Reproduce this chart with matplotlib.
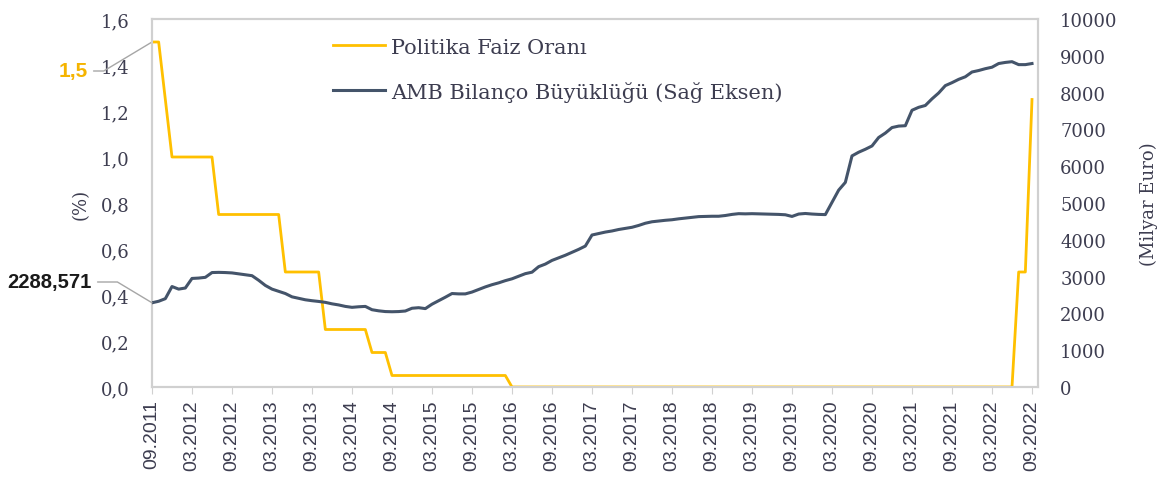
import matplotlib
matplotlib.use("Agg")
import matplotlib.pyplot as plt

# monthly observations, 09.2011 .. 09.2022
policy_rate = [
    1.5, 1.5, 1.25, 1.0, 1.0, 1.0, 1.0, 1.0, 1.0, 1.0,
    0.75, 0.75, 0.75, 0.75, 0.75, 0.75, 0.75, 0.75, 0.75, 0.75,
    0.5, 0.5, 0.5, 0.5, 0.5, 0.5,
    0.25, 0.25, 0.25, 0.25, 0.25, 0.25, 0.25,
    0.15, 0.15, 0.15,
    0.05, 0.05, 0.05, 0.05, 0.05, 0.05, 0.05, 0.05, 0.05, 0.05,
    0.05, 0.05, 0.05, 0.05, 0.05, 0.05, 0.05, 0.05,
    0.0, 0.0, 0.0, 0.0, 0.0, 0.0, 0.0, 0.0, 0.0, 0.0,
    0.0, 0.0, 0.0, 0.0, 0.0, 0.0, 0.0, 0.0, 0.0, 0.0,
    0.0, 0.0, 0.0, 0.0, 0.0, 0.0, 0.0, 0.0, 0.0, 0.0,
    0.0, 0.0, 0.0, 0.0, 0.0, 0.0, 0.0, 0.0, 0.0, 0.0,
    0.0, 0.0, 0.0, 0.0, 0.0, 0.0, 0.0, 0.0, 0.0, 0.0,
    0.0, 0.0, 0.0, 0.0, 0.0, 0.0, 0.0, 0.0, 0.0, 0.0,
    0.0, 0.0, 0.0, 0.0, 0.0, 0.0, 0.0, 0.0, 0.0, 0.0,
    0.0, 0.0, 0.0, 0.0, 0.0, 0.0,
    0.5, 0.5, 1.25,
]

ecb_balance = [
    2288.571, 2330, 2400, 2730, 2660, 2690, 2950, 2960, 2980, 3110,
    3115, 3110, 3100, 3075, 3050, 3025, 2900, 2760, 2660, 2600,
    2540, 2450, 2410, 2370, 2345, 2325, 2300, 2260, 2230, 2190,
    2165, 2180, 2190, 2100, 2070, 2050, 2045, 2050, 2065, 2140,
    2155, 2130, 2250, 2345, 2440, 2540, 2530, 2530, 2580, 2650,
    2720, 2780, 2830, 2890, 2940, 3010, 3080, 3120, 3270, 3340,
    3440, 3510, 3580, 3660, 3740, 3830, 4130, 4170, 4210, 4240,
    4280, 4310, 4340, 4390, 4450, 4490, 4510, 4530, 4545, 4570,
    4590, 4610, 4630, 4635, 4640, 4640, 4660, 4690, 4710, 4705,
    4710, 4705, 4700, 4695, 4690, 4680, 4635, 4700, 4715, 4700,
    4690, 4685, 5020, 5350, 5560, 6280, 6380, 6460, 6550, 6780,
    6900, 7050, 7090, 7100, 7520, 7600, 7650, 7830, 7990, 8190,
    8270, 8360, 8430, 8560, 8600, 8650, 8690, 8790, 8820, 8840,
    8760, 8760, 8790,
]

tick_labels = [
    "09.2011", "03.2012", "09.2012", "03.2013", "09.2013", "03.2014",
    "09.2014", "03.2015", "09.2015", "03.2016", "09.2016", "03.2017",
    "09.2017", "03.2018", "09.2018", "03.2019", "09.2019", "03.2020",
    "09.2020", "03.2021", "09.2021", "03.2022", "09.2022",
]
left_ticks = [0.0, 0.2, 0.4, 0.6, 0.8, 1.0, 1.2, 1.4, 1.6]
right_ticks = [0, 1000, 2000, 3000, 4000, 5000, 6000, 7000, 8000, 9000, 10000]

YELLOW = "#FFC000"
NAVY = "#44546A"
TXT = "#3d3d50"
FRAME = "#d0d0d0"
SERIF = "DejaVu Serif"

months = list(range(len(policy_rate)))

fig = plt.figure(figsize=(11.6, 4.89), dpi=100)
ax = fig.add_axes([152 / 1160, 101 / 489, 886 / 1160, 368 / 489])
ax2 = ax.twinx()

l1, = ax.plot(months, policy_rate, color=YELLOW, lw=2.0, zorder=3)
l2, = ax2.plot(months, ecb_balance, color=NAVY, lw=2.2, zorder=3)

ax.set_xlim(0, 132.9)
ax.set_ylim(0, 1.6)
ax2.set_ylim(0, 10000)

ax.set_xticks(months[::6])
ax.set_xticklabels(tick_labels, rotation=90, family="Liberation Sans",
                   fontsize=14, color=TXT)
ax.tick_params(axis="x", length=5, color=FRAME, pad=4)

ax.set_yticks(left_ticks)
ax.set_yticklabels([f"{v:.1f}".replace(".", ",") for v in left_ticks],
                   family=SERIF, fontsize=13, color=TXT)
ax.tick_params(axis="y", length=0, pad=16)
ax2.set_yticks(right_ticks)
ax2.set_yticklabels([str(v) for v in right_ticks], family=SERIF,
                    fontsize=13, color=TXT)
ax2.tick_params(axis="y", length=0, pad=16)

ax.set_ylabel("(%)", family=SERIF, fontsize=13, color=TXT, labelpad=8)
ax2.set_ylabel("(Milyar Euro)", family=SERIF, fontsize=13, color=TXT,
               labelpad=16)

for a in (ax, ax2):
    for s in a.spines.values():
        s.set_color(FRAME)
        s.set_linewidth(1.5)

leg = ax2.legend([l1, l2], ["Politika Faiz Oranı", "AMB Bilanço Büyüklüğü (Sağ Eksen)"],
                 loc="upper left", bbox_to_anchor=(0.183, 1.0), frameon=False,
                 handlelength=2.5, handletextpad=0.3, labelspacing=1.15,
                 prop={"family": SERIF, "size": 15})
for t in leg.get_texts():
    t.set_color(TXT)

ax.annotate("1,5", xy=(0, policy_rate[0]), xycoords="data",
            xytext=(88, 417), textcoords="figure pixels", ha="right", va="center",
            fontsize=15, color="#F5B400", family="Liberation Sans",
            fontweight="bold",
            arrowprops=dict(arrowstyle="-", color="#a6a6a6", lw=1,
                            relpos=(1, 0.5), shrinkB=0,
                            connectionstyle="angle,angleA=0,angleB=31,rad=0"),
            annotation_clip=False)
ax2.annotate(f"{ecb_balance[0]:.3f}".replace(".", ","), xy=(0, ecb_balance[0]),
             xycoords="data", xytext=(92, 206), textcoords="figure pixels",
             ha="right", va="center", fontsize=14.5, color="#1a1a1a",
             family="Liberation Sans", fontweight="bold",
             arrowprops=dict(arrowstyle="-", color="#a6a6a6", lw=1,
                             relpos=(1, 0.5), shrinkB=0,
                             connectionstyle="angle,angleA=0,angleB=-31,rad=0"),
             annotation_clip=False)

fig.savefig("out.png", dpi=100)
